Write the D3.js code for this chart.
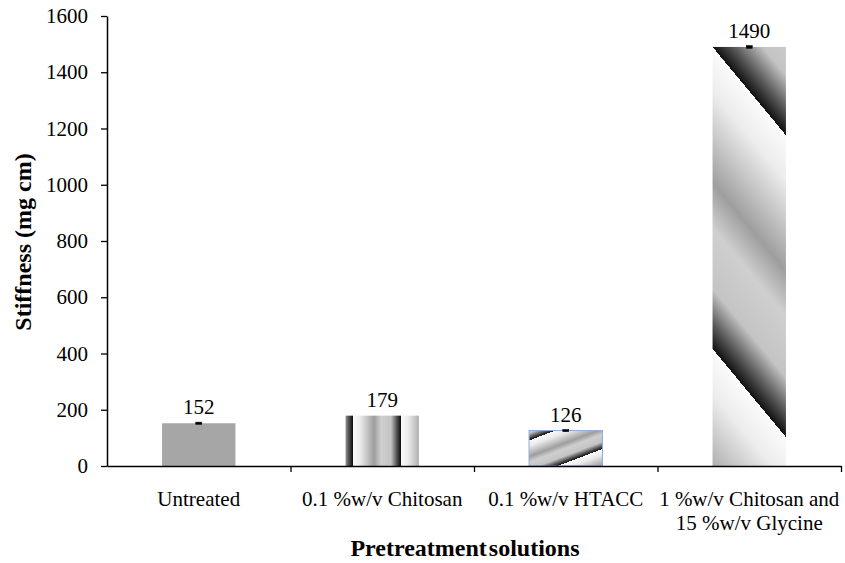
<!DOCTYPE html>
<html>
<head>
<meta charset="utf-8">
<script src="https://cdn.jsdelivr.net/npm/d3@7"></script>
<style>
  html, body { margin: 0; padding: 0; background: #fff; }
  svg { display: block; }
  svg text { font-family: "Liberation Serif", "DejaVu Serif", serif !important; fill: #000; }
</style>
</head>
<body>
<svg id="chart" width="845" height="563" font-family="Liberation Serif, serif"></svg>
<script>
// Stiffness of fabric after each pretreatment
const categoryLines = [
  ["Untreated"],
  ["0.1 %w/v Chitosan"],
  ["0.1 %w/v HTACC"],
  ["1 %w/v Chitosan and", "15 %w/v Glycine"]
];
const stiffness = [152, 179, 126, 1490];
const stiffnessErr = [4, 0, 4, 5];
const yTicks = [0, 200, 400, 600, 800, 1000, 1200, 1400, 1600];
const yTitle = "Stiffness (mg cm)";
const xTitle = "Pretreatment solutions";

const W = 845, H = 563;
const margin = { top: 16, right: 4, bottom: 97, left: 107 };
const serif = '"Liberation Serif", "DejaVu Serif", serif';
const svg = d3.select("#chart");
const keys = categoryLines.map(l => l.join(" "));

const x = d3.scaleBand()
  .domain(keys)
  .range([margin.left, W - margin.right])
  .paddingInner(0.6)
  .paddingOuter(0.3);

const y = d3.scaleLinear()
  .domain([0, 1600])
  .range([H - margin.bottom, margin.top]);

// Shaded fills: repeating grey ramps with a hard dark-to-white edge
const defs = svg.append("defs");
const rampStops = [
  [0.00, "#fbfbfb"], [0.15, "#ececec"], [0.30, "#c6c6c6"], [0.45, "#9e9e9e"],
  [0.60, "#cfcfcf"], [0.80, "#c4c4c4"], [0.92, "#555555"], [1.00, "#111111"]
];
function ramp(id, x1, y1, x2, y2) {
  const g = defs.append("linearGradient")
    .attr("id", id)
    .attr("gradientUnits", "userSpaceOnUse")
    .attr("spreadMethod", "repeat")
    .attr("x1", x1).attr("y1", y1).attr("x2", x2).attr("y2", y2);
  g.selectAll("stop").data(rampStops).join("stop")
    .attr("offset", d => d[0])
    .attr("stop-color", d => d[1]);
  return `url(#${id})`;
}

const fills = stiffness.map((v, i) => {
  const bx = x(keys[i]);
  const by = y(v);
  if (i === 0) return "#a6a6a6";
  if (i === 1) {
    // vertical stripes
    return ramp("fill1", bx + 7, 0, bx + 55, 0);
  }
  if (i === 2) {
    // shallow rising diagonal stripes
    const p = 34, nx = 0.355, ny = 0.935;
    return ramp("fill2", bx + 1, by + 9.5, bx + 1 + nx * p, by + 9.5 + ny * p);
  }
  // steep falling diagonal bands
  const p = 193, nx = -0.769, ny = 0.639;
  return ramp("fill3", bx, by, bx + nx * p, by + ny * p);
});

// Bars
svg.append("g").selectAll("rect")
  .data(stiffness)
  .join("rect")
  .attr("x", (d, i) => x(keys[i]))
  .attr("y", d => y(d))
  .attr("width", x.bandwidth())
  .attr("height", d => y(0) - y(d))
  .attr("fill", (d, i) => fills[i])
  .attr("stroke", (d, i) => i === 2 ? "#8eaadc" : "none")
  .attr("stroke-width", 1);

// Error bars (short, nearly closed whiskers)
const eb = svg.append("g").attr("stroke", "#000");
stiffness.forEach((v, i) => {
  const e = stiffnessErr[i];
  if (!e) return;
  const cx = x(keys[i]) + x.bandwidth() / 2;
  eb.append("rect")
    .attr("x", cx - 3).attr("width", 6)
    .attr("y", y(v + e)).attr("height", y(v - e) - y(v + e))
    .attr("fill", "#000")
    .attr("stroke-width", 0.5);
});

// Value labels
svg.append("g").selectAll("text")
  .data(stiffness)
  .join("text")
  .attr("x", (d, i) => x(keys[i]) + x.bandwidth() / 2)
  .attr("y", d => y(d) - 9)
  .attr("text-anchor", "middle")
  .attr("font-family", serif)
  .attr("font-size", 21)
  .text(d => d);

// Y axis
const yAxis = svg.append("g")
  .attr("transform", `translate(${margin.left},0)`)
  .call(d3.axisLeft(y).tickValues(yTicks).tickFormat(d3.format("d"))
    .tickSize(6).tickSizeOuter(0).tickPadding(13))
  .attr("font-family", serif)
  .attr("font-size", 21);
yAxis.select(".domain").attr("stroke", "#000").attr("stroke-width", 1.5);
yAxis.selectAll(".tick line").attr("stroke", "#000").attr("stroke-width", 1.3);
yAxis.selectAll(".tick text").attr("fill", "#000");

// X axis with ticks at category boundaries
const xb = d3.scaleLinear().domain([0, keys.length]).range(x.range());
const xAxis = svg.append("g")
  .attr("transform", `translate(0,${y(0)})`)
  .call(d3.axisBottom(xb).tickValues(d3.range(1, keys.length + 1))
    .tickSize(6).tickSizeOuter(0).tickFormat(""));
xAxis.select(".domain").attr("stroke", "#000").attr("stroke-width", 1.5);
xAxis.selectAll(".tick line").attr("stroke", "#000").attr("stroke-width", 1.3);

// Category labels
const catG = svg.append("g").attr("font-family", serif).attr("font-size", 21);
categoryLines.forEach((lines, i) => {
  const cx = x(keys[i]) + x.bandwidth() / 2;
  const t = catG.append("text")
    .attr("x", cx)
    .attr("y", y(0) + 40)
    .attr("text-anchor", "middle");
  lines.forEach((ln, j) => {
    t.append("tspan")
      .attr("x", cx)
      .attr("dy", j === 0 ? 0 : 24)
      .text(ln);
  });
});

// Axis titles
svg.append("text")
  .attr("x", (x.range()[0] + x.range()[1]) / 2 - 9)
  .attr("y", 556)
  .attr("text-anchor", "middle")
  .attr("font-family", serif)
  .attr("font-size", 24)
  .attr("font-weight", "bold")
  .style("word-spacing", "-4px")
  .text(xTitle);

svg.append("text")
  .attr("transform", `translate(31,${(y(0) + y(1600)) / 2 + 1}) rotate(-90)`)
  .attr("text-anchor", "middle")
  .attr("font-family", serif)
  .attr("font-size", 24)
  .attr("font-weight", "bold")
  .text(yTitle);
</script>
</body>
</html>
